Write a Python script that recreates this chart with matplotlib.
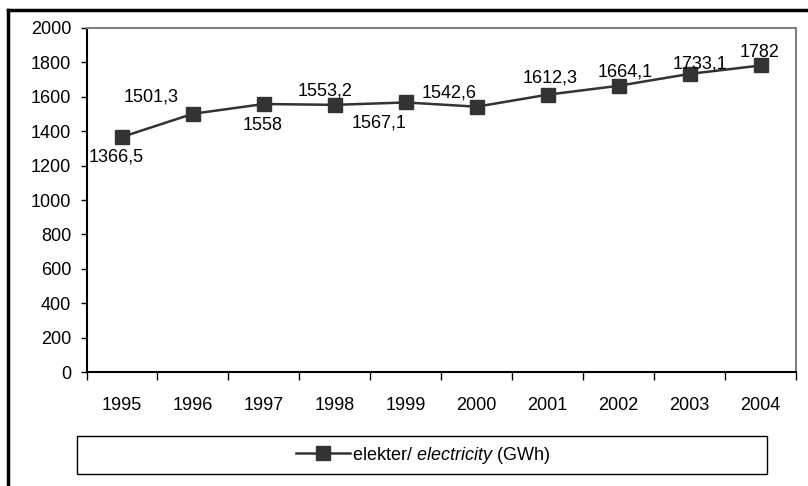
import matplotlib
matplotlib.use("Agg")
import matplotlib.pyplot as plt
from matplotlib.lines import Line2D
from matplotlib.patches import Rectangle

years = ["1995", "1996", "1997", "1998", "1999", "2000", "2001", "2002", "2003", "2004"]
values = [1366.5, 1501.3, 1558, 1553.2, 1567.1, 1542.6, 1612.3, 1664.1, 1733.1, 1782]
labels = ["1366,5", "1501,3", "1558", "1553,2", "1567,1", "1542,6", "1612,3", "1664,1", "1733,1", "1782"]
# label offsets in pixels (dx, dy)
offsets = [(-6, -20), (-42, 17), (-1, -21), (-10, 14), (-27, -21), (-28, 14), (2, 17), (7, 14), (10, 10), (-1, 13)]

plt.rcParams['font.family'] = ['Liberation Sans', 'DejaVu Sans']
plt.rcParams['mathtext.fontset'] = 'custom'
plt.rcParams['mathtext.it'] = 'Liberation Sans:italic'
plt.rcParams['mathtext.rm'] = 'Liberation Sans'

FS = 13
W, H = 808, 486
fig = plt.figure(figsize=(W / 100, H / 100), dpi=100)
ax = fig.add_axes([86.5 / W, (H - 372) / H, (796 - 86.5) / W, (372 - 28) / H])

col = '#333333'
x = list(range(len(years)))
ax.plot(x, values, color=col, lw=1.8, marker='s', markersize=10, markerfacecolor=col,
        markeredgecolor=col, label='elekter/ $\\it{electricity}$ (GWh)')

for xi, v, lab, (dx, dy) in zip(x, values, labels, offsets):
    ax.annotate(lab, (xi, v), xytext=(dx, dy), textcoords='offset pixels',
                ha='center', va='center', fontsize=FS, color='black')

ax.set_xlim(-0.5, 9.5)
ax.set_ylim(0, 2000)
ax.set_yticks(range(0, 2001, 200))
ax.tick_params(axis='y', labelsize=FS, length=4, width=1, pad=7, direction='out')

ax.set_xticks([i - 0.5 for i in range(11)])
ax.set_xticklabels([])
ax.tick_params(axis='x', which='major', length=5.5, width=1, direction='out')
ax.set_xticks(x, minor=True)
ax.set_xticklabels(years, minor=True)
ax.tick_params(axis='x', which='minor', length=0, labelsize=FS, pad=18)

for s in ['top', 'right']:
    ax.spines[s].set_color('#808080')
    ax.spines[s].set_linewidth(1.5)
for s in ['left', 'bottom']:
    ax.spines[s].set_color('black')
    ax.spines[s].set_linewidth(1.5)

# legend box
fig.patches.append(Rectangle((77 / W, (H - 474) / H), (767 - 77) / W, 38 / H,
                             transform=fig.transFigure, fill=False, edgecolor='black', lw=1))
handles, labs = ax.get_legend_handles_labels()
fig.legend(handles, labs, loc='center', bbox_to_anchor=(423 / W, (H - 455) / H),
           frameon=False, fontsize=FS, handlelength=3, handletextpad=0.1)

# outer frame (top and left lines)
fig.add_artist(Line2D([8 / W, 1], [(H - 10.5) / H, (H - 10.5) / H], transform=fig.transFigure,
                      color='black', lw=2.5))
fig.add_artist(Line2D([8 / W, 8 / W], [0, (H - 10.5) / H], transform=fig.transFigure,
                      color='black', lw=2.5))

fig.savefig('out.png', dpi=100)
